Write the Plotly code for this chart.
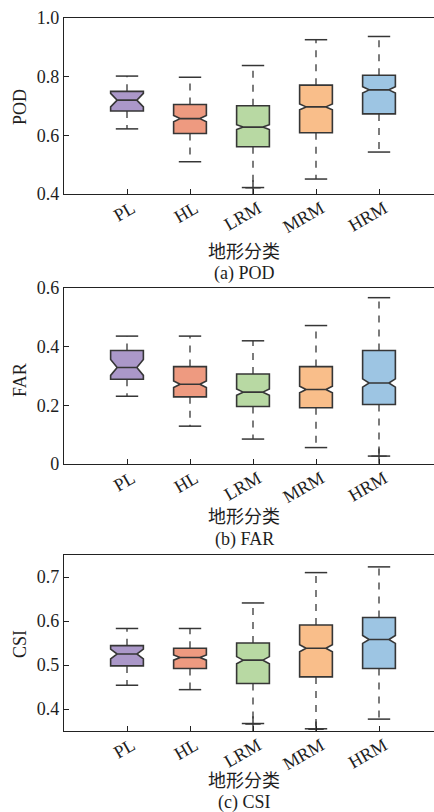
import plotly.graph_objects as go

categories = ["PL", "HL", "LRM", "MRM", "HRM"]
box_colors = ["#ab98c9", "#ee9a80", "#b8d9a3", "#f9be8a", "#9dc5e3"]

# POD
pod_lower = [0.622, 0.510, 0.422, 0.451, 0.543]
pod_q1 = [0.683, 0.606, 0.561, 0.609, 0.673]
pod_med = [0.720, 0.657, 0.628, 0.697, 0.755]
pod_q3 = [0.750, 0.705, 0.701, 0.771, 0.805]
pod_upper = [0.802, 0.798, 0.838, 0.926, 0.937]
pod_notch = [0.023, 0.011, 0.008, 0.010, 0.011]
pod_out_cat = ["LRM"]
pod_out_val = [0.421]

# FAR
far_lower = [0.231, 0.129, 0.085, 0.056, 0.027]
far_q1 = [0.289, 0.229, 0.196, 0.192, 0.203]
far_med = [0.329, 0.272, 0.245, 0.254, 0.276]
far_q3 = [0.387, 0.332, 0.307, 0.332, 0.387]
far_upper = [0.436, 0.436, 0.420, 0.472, 0.567]
far_notch = [0.027, 0.011, 0.011, 0.011, 0.014]
far_out_cat = ["HRM"]
far_out_val = [0.027]

# CSI
csi_lower = [0.454, 0.444, 0.367, 0.355, 0.377]
csi_q1 = [0.498, 0.492, 0.458, 0.473, 0.492]
csi_med = [0.525, 0.517, 0.511, 0.538, 0.558]
csi_q3 = [0.544, 0.538, 0.550, 0.591, 0.608]
csi_upper = [0.583, 0.583, 0.641, 0.710, 0.723]
csi_notch = [0.011, 0.006, 0.008, 0.008, 0.009]
csi_out_cat = ["LRM", "MRM"]
csi_out_val = [0.366, 0.354]

y_titles = ["POD", "FAR", "CSI"]
captions = ["(a) POD", "(b) FAR", "(c) CSI"]
x_title = "地形分类"

W, H = 434, 812
EDGE = "#363636"
TXT = "#1e1e1e"
SERIF = "Liberation Serif, Times New Roman, serif"
CJK = "Liberation Serif, Noto Sans CJK SC, sans-serif"


def py(v):  # page y -> paper fraction
    return 1 - v / H


def px(v):  # page x -> paper fraction
    return v / W


panels = [
    dict(lower=pod_lower, q1=pod_q1, med=pod_med, q3=pod_q3, upper=pod_upper, notch=pod_notch,
         oc=pod_out_cat, ov=pod_out_val, top=18, bottom=194, yr=[0.4, 1.0], dt=0.2, fmt=".1f",
         ytitle_y=107, xt_y=252, cap_y=273),
    dict(lower=far_lower, q1=far_q1, med=far_med, q3=far_q3, upper=far_upper, notch=far_notch,
         oc=far_out_cat, ov=far_out_val, top=288, bottom=464, yr=[0.0, 0.6], dt=0.2, fmt="",
         ytitle_y=380, xt_y=517, cap_y=539),
    dict(lower=csi_lower, q1=csi_q1, med=csi_med, q3=csi_q3, upper=csi_upper, notch=csi_notch,
         oc=csi_out_cat, ov=csi_out_val, top=555, bottom=731, yr=[0.35, 0.75], dt=0.1, fmt=".1f",
         ytitle_y=644, xt_y=781, cap_y=802),
]

fig = go.Figure()
annotations = []
x_left = 64
unit = 63.0
x_range = [-1, -1 + (W - x_left) / unit]

for i, p in enumerate(panels):
    xa = "x" if i == 0 else f"x{i+1}"
    ya = "y" if i == 0 else f"y{i+1}"
    for j, c in enumerate(categories):
        fig.add_trace(go.Box(
            x=[c], q1=[p["q1"][j]], median=[p["med"][j]], q3=[p["q3"][j]],
            lowerfence=[p["q1"][j]], upperfence=[p["q3"][j]],
            notched=True, notchspan=[p["notch"][j]], notchwidth=0.2,
            width=0.52, whiskerwidth=0, fillcolor=box_colors[j],
            line=dict(color=EDGE, width=1.6), boxpoints=False,
            xaxis=xa, yaxis=ya, showlegend=False, hoverinfo="skip"))
    # dashed whiskers
    wx, wy = [], []
    for j, c in enumerate(categories):
        wx += [c, c, None, c, c, None]
        wy += [p["q3"][j], p["upper"][j], None, p["q1"][j], p["lower"][j], None]
    fig.add_trace(go.Scatter(x=wx, y=wy, mode="lines", xaxis=xa, yaxis=ya,
                             line=dict(color=EDGE, width=1.3, dash="7px,7px"),
                             showlegend=False, hoverinfo="skip"))
    # caps
    fig.add_trace(go.Scatter(x=categories + categories, y=p["upper"] + p["lower"], mode="markers",
                             xaxis=xa, yaxis=ya,
                             marker=dict(symbol="line-ew", size=16, line=dict(color=EDGE, width=1.5)),
                             showlegend=False, hoverinfo="skip"))
    # outliers
    fig.add_trace(go.Scatter(x=p["oc"], y=p["ov"], mode="markers", xaxis=xa, yaxis=ya,
                             marker=dict(symbol="cross-thin", size=11, line=dict(color=EDGE, width=1.4)),
                             showlegend=False, hoverinfo="skip"))

    dom_y = [py(p["bottom"]), py(p["top"])]
    axis_x = dict(domain=[px(x_left), 1.0], range=x_range, type="category",
                  categoryorder="array", categoryarray=categories,
                  showline=True, linecolor="#222", linewidth=1.4, mirror=True,
                  ticks="inside", ticklen=5, tickcolor="#222", tickwidth=1.2,
                  tickangle=-30, ticklabelstandoff=-4, ticklabelshift=5,
                  tickfont=dict(family=SERIF, size=18, color=TXT), automargin=False,
                  showgrid=False, zeroline=False, anchor=ya, fixedrange=True)
    axis_y = dict(domain=dom_y, range=p["yr"], dtick=p["dt"], tick0=0, tickformat=p["fmt"],
                  showline=True, linecolor="#222", linewidth=1.4, mirror=False,
                  ticks="inside", ticklen=5, tickcolor="#222", tickwidth=1.2,
                  tickfont=dict(family=SERIF, size=18, color=TXT), automargin=False,
                  showgrid=False, zeroline=False, anchor=xa, fixedrange=True)
    fig.update_layout(**{("xaxis" if i == 0 else f"xaxis{i+1}"): axis_x,
                         ("yaxis" if i == 0 else f"yaxis{i+1}"): axis_y})

    annotations.append(dict(text=y_titles[i], x=px(20), y=py(p["ytitle_y"]), xref="paper", yref="paper",
                            textangle=-90, showarrow=False, xanchor="center", yanchor="middle",
                            font=dict(family=SERIF, size=18, color=TXT)))
    annotations.append(dict(text=x_title, x=px(244), y=py(p["xt_y"]), xref="paper", yref="paper",
                            showarrow=False, xanchor="center", yanchor="middle",
                            font=dict(family=CJK, size=18, color=TXT)))
    annotations.append(dict(text=captions[i], x=px(244), y=py(p["cap_y"]), xref="paper", yref="paper",
                            showarrow=False, xanchor="center", yanchor="middle",
                            font=dict(family=SERIF, size=18, color=TXT)))

fig.update_layout(width=W, height=H, margin=dict(l=0, r=0, t=0, b=0, autoexpand=False),
                  paper_bgcolor="white", plot_bgcolor="white", boxmode="overlay",
                  annotations=annotations, showlegend=False)

fig.write_html("out.html", config={"displayModeBar": False},
               post_script="document.body.style.margin='0';document.body.style.overflow='hidden';")
